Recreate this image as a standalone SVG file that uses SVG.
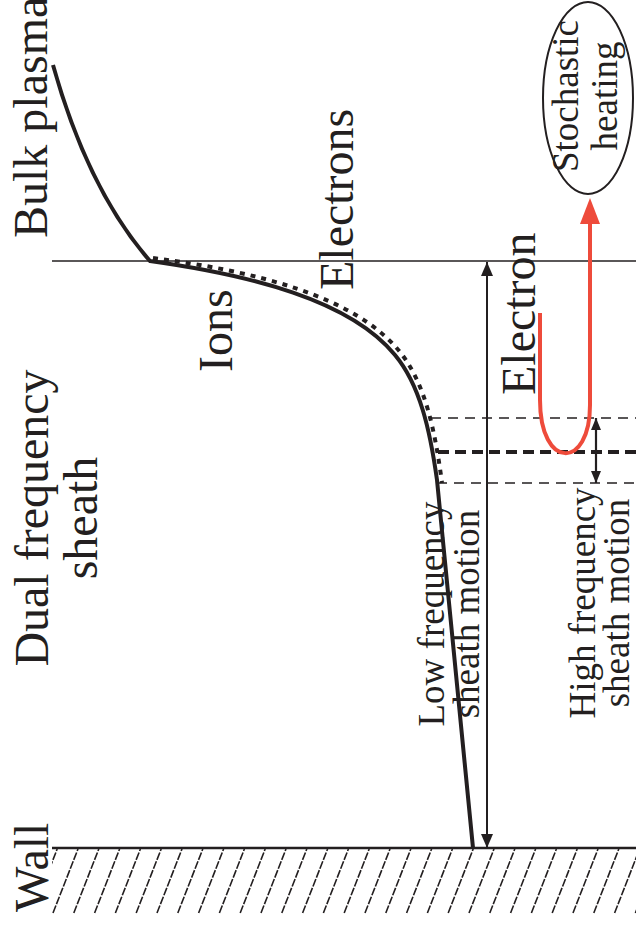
<svg xmlns="http://www.w3.org/2000/svg" width="636" height="926" viewBox="0 0 636 926">
<style>
.t{font-family:"Liberation Serif","Times New Roman",serif;fill:#231f20}
.big{font-size:48px}
.mid{font-size:37px}
.ln{fill:none;stroke:#231f20}
</style>
<defs>
<marker id="ah" viewBox="0 0 14 12" refX="14" refY="6" markerWidth="14" markerHeight="12" markerUnits="userSpaceOnUse" orient="auto-start-reverse">
<path d="M0,0 L14,6 L0,12 Z" fill="#231f20"/>
</marker>
<marker id="ahs" viewBox="0 0 12 10" refX="12" refY="5" markerWidth="12" markerHeight="10" markerUnits="userSpaceOnUse" orient="auto-start-reverse">
<path d="M0,0 L12,5 L0,10 Z" fill="#231f20"/>
</marker>
<clipPath id="hc"><rect x="52" y="849" width="584" height="65"/></clipPath>
</defs>
<rect width="636" height="926" fill="#fff"/>

<g id="wall">
<g clip-path="url(#hc)">
<path class="ln" stroke-width="1.6" stroke-dasharray="8 1.5" d="M32.2,913L57.2,849M53,913L78,849M73.8,913L98.8,849M94.6,913L119.6,849M115.4,913L140.4,849M136.2,913L161.2,849M157,913L182,849M177.8,913L202.8,849M198.6,913L223.6,849M219.4,913L244.4,849M240.2,913L265.2,849M261,913L286,849M281.8,913L306.8,849M302.6,913L327.6,849M323.4,913L348.4,849M344.2,913L369.2,849M365,913L390,849M385.8,913L410.8,849M406.6,913L431.6,849M427.4,913L452.4,849M448.2,913L473.2,849M469,913L494,849M489.8,913L514.8,849M510.6,913L535.6,849M531.4,913L556.4,849M552.2,913L577.2,849M573,913L598,849M593.8,913L618.8,849M614.6,913L639.6,849M635.4,913L660.4,849"/>
</g>
<line class="ln" x1="52" y1="848" x2="636" y2="848" stroke-width="2.5"/>
</g>

<g id="sheath-edge">
<line class="ln" x1="52" y1="261" x2="636" y2="261" stroke="#555" stroke-width="1.3"/>
</g>

<g id="potential-curve">
<path class="ln" stroke-width="4" stroke-dasharray="5 6" d="M153,258 C254,271 355,296 400,352 C425,383 435,430 442,483"/>
<path class="ln" stroke-width="4" d="M53,65 Q88,190 150,261 C250,275 350,300 395,355 C420,385 430,430 437,480 L473,848"/>
</g>

<g id="levels">
<line class="ln" x1="431" y1="418" x2="636" y2="418" stroke-width="1.3" stroke-dasharray="10 7"/>
<line class="ln" x1="438" y1="452" x2="636" y2="452" stroke-width="4" stroke-dasharray="11 6"/>
<line class="ln" x1="437" y1="483" x2="636" y2="483" stroke-width="1.3" stroke-dasharray="10 7"/>
</g>

<g id="connectors">
<line class="ln" x1="487" y1="262" x2="487" y2="848" stroke-width="2" marker-start="url(#ah)" marker-end="url(#ah)"/>
<line class="ln" x1="596" y1="418" x2="596" y2="483" stroke-width="2.2" marker-start="url(#ahs)" marker-end="url(#ahs)"/>
<path fill="none" stroke="#ee4b3b" stroke-width="4" d="M540,313 L540,400 C540,470 590,470 590,405 L590,222"/>
<path d="M590,198 L600,224 L580,224 Z" fill="#ee4b3b"/>
</g>

<g id="stochastic-heating">
<ellipse cx="588" cy="98" rx="45" ry="96" fill="none" stroke="#231f20" stroke-width="2"/>
<text class="t mid" text-anchor="middle" transform="translate(578,96) rotate(-90)">Stochastic</text>
<text class="t mid" text-anchor="middle" transform="translate(617,96) rotate(-90)">heating</text>
</g>

<g id="labels">
<text class="t big" transform="translate(47,238) rotate(-90)">Bulk plasma</text>
<text class="t big" text-anchor="middle" transform="translate(48,518) rotate(-90)">Dual frequency</text>
<text class="t big" text-anchor="middle" transform="translate(97,518) rotate(-90)">sheath</text>
<text class="t big" transform="translate(48,912) rotate(-90)">Wall</text>
<text class="t big" transform="translate(232,372) rotate(-90)">Ions</text>
<text class="t big" transform="translate(353,290) rotate(-90)">Electrons</text>
<text class="t big" transform="translate(535,395) rotate(-90)">Electron</text>
<text class="t mid" text-anchor="middle" transform="translate(444,614) rotate(-90)">Low frequency</text>
<text class="t mid" text-anchor="middle" transform="translate(479,614) rotate(-90)">sheath motion</text>
<text class="t mid" text-anchor="middle" transform="translate(595,603) rotate(-90)">High frequency</text>
<text class="t mid" text-anchor="middle" transform="translate(629,603) rotate(-90)">sheath motion</text>
</g>
</svg>
